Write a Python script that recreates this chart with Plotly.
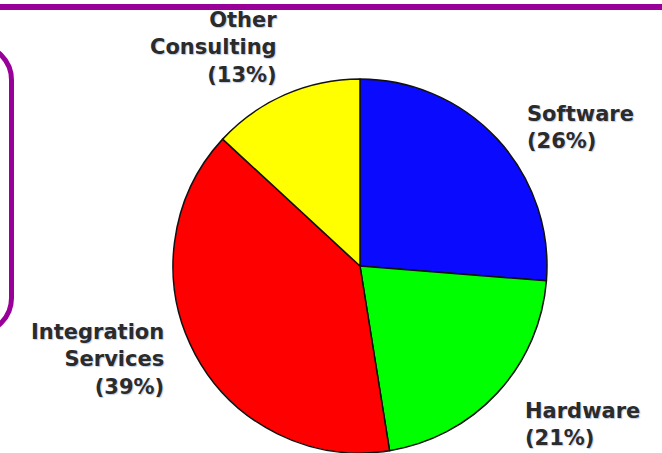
import plotly.graph_objects as go

# ---- data ----
categories = ["Software", "Hardware", "Integration Services", "Other Consulting"]
display_labels = ["Software", "Hardware", "Integration<br>Services", "Other<br>Consulting"]
shares = [26, 21, 39, 13]
colors = ["#0A0AFF", "#00FF00", "#FF0000", "#FFFF00"]

W, H = 662, 453


def px(x):
    return x / W


def py(y):
    return min(1.0, max(0.0, 1 - y / H))


fig = go.Figure()

# pie: center approx (360, 266), radius ~187 px
r = 187
cx, cy = 360, 266
fig.add_trace(go.Pie(
    labels=categories,
    values=shares,
    sort=False,
    direction="clockwise",
    rotation=0,
    marker=dict(colors=colors, line=dict(color="#111111", width=1.5)),
    textinfo="none",
    hoverinfo="label+percent",
    domain=dict(x=[px(cx - r), px(cx + r)], y=[py(cy + r), py(cy - r)]),
    showlegend=False,
))

# label placement (pixel anchors)
label_pos = {
    "Software": (525, 127, "left"),
    "Hardware": (523, 424, "left"),
    "Integration Services": (166, 359, "right"),
    "Other Consulting": (279, 48, "right"),
}

font = dict(family="DejaVu Sans", size=21, color="#2b2b2b",
            weight="bold", shadow="1px 1px 1px rgba(140,160,200,0.55)")

for cat, lab, v in zip(categories, display_labels, shares):
    x, y, al = label_pos[cat]
    fig.add_annotation(
        x=px(x), y=py(y), xref="paper", yref="paper",
        text=f"{lab}<br>({v}%)", showarrow=False,
        xanchor=al, yanchor="middle", align=al, font=font,
    )

purple = "#990099"
shapes = [
    dict(type="line", xref="paper", yref="paper",
         x0=0, x1=1, y0=1 - 7 / H, y1=1 - 7 / H,
         line=dict(color=purple, width=6)),
]

# partial rounded frame on the left
xr, top, bot, rad, xl = 11.5, 45, 333, 35, -80
k = 0.5523 * rad


def qy(y):
    return 1 - y / H


path = (
    f"M {px(xl)},{qy(top)} "
    f"L {px(xr - rad)},{qy(top)} "
    f"C {px(xr - rad + k)},{qy(top)} {px(xr)},{qy(top + rad - k)} {px(xr)},{qy(top + rad)} "
    f"L {px(xr)},{qy(bot - rad)} "
    f"C {px(xr)},{qy(bot - rad + k)} {px(xr - rad + k)},{qy(bot)} {px(xr - rad)},{qy(bot)} "
    f"L {px(xl)},{qy(bot)}"
)
shapes.append(dict(type="path", xref="paper", yref="paper", path=path,
                   line=dict(color=purple, width=5)))

fig.update_layout(
    width=W, height=H,
    margin=dict(l=0, r=0, t=0, b=0),
    paper_bgcolor="white",
    plot_bgcolor="white",
    shapes=shapes,
    showlegend=False,
)

fig.write_html(
    "out.html",
    config={"displayModeBar": False},
    post_script="document.body.style.margin='0px';document.body.style.overflow='hidden';",
)
